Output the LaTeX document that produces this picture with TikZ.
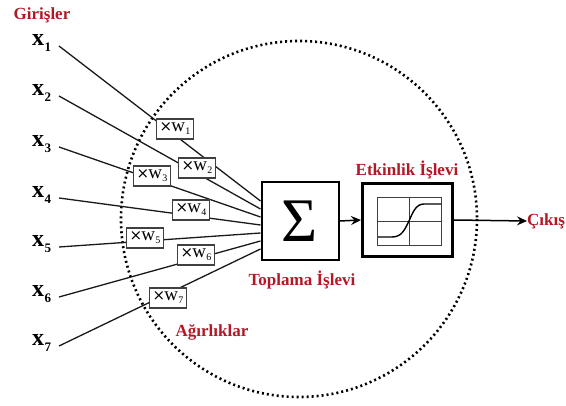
\documentclass[tikz,border=0pt]{standalone}
\usepackage{fontspec}
\setmainfont{Liberation Serif}
\newfontfamily\timesfont{DejaVu Sans}
\usetikzlibrary{arrows.meta,calc}
\definecolor{labred}{RGB}{178,24,38}
\newcommand{\xin}[1]{x\kern0.5pt\raisebox{-6pt}{\fontsize{13}{13}\selectfont #1}}
\newcommand{\wt}[1]{{\timesfont\fontsize{15}{15}\selectfont ×}\kern-1pt w\kern0.3pt\raisebox{-3pt}{\fontsize{10}{10}\selectfont #1}}
\begin{document}
\begin{tikzpicture}[x=1pt,y=-1pt,
  redlab/.style={text=labred,font=\fontsize{17}{17}\selectfont\bfseries,inner sep=0pt},
  xlab/.style={font=\fontsize{24}{24}\selectfont\bfseries,inner sep=0pt,anchor=base west},
  wbox/.style={draw=black!75,line width=1.3pt,fill=white,minimum width=37pt,
    minimum height=20pt,inner sep=0pt,font=\fontsize{19}{19}\selectfont},
  link/.style={line width=1.3pt,black!90},
  blockbox/.style={draw=black,fill=white,inner sep=0pt},
  flow/.style={line width=1.5pt,-{Stealth[length=10pt,width=9pt,inset=3.5pt]}},
  boundary/.style={line width=2.6pt,dash pattern=on 2pt off 3pt}
]
\useasboundingbox (0,0) rectangle (566,406);

% neuron boundary
\draw[boundary] (299,219) circle[radius=178];

% inputs
\node[redlab] (girisler) at (42,15) {Girişler};
\foreach \i/\yb in {1/46,2/96,3/147,4/198,5/247,6/297,7/346}{
  \node[xlab] (x\i) at (32,\yb) {\xin{\i}};
  \coordinate (s\i) at (59,\yb);
}

% summation block and its input points
\node[blockbox,line width=2pt,minimum width=77pt,minimum height=78pt] (sum) at (300,221)
  {\fontsize{62}{62}\selectfont Σ};
\foreach \i in {1,...,7}{
  \coordinate (e\i) at ($(sum.north west)!{(\i+1.5)/10}!(sum.south west)$);
}

% weighted connections
\foreach \i in {1,...,7}{
  \draw[link] (s\i) -- (e\i);
}
\node[wbox] (w1) at (175,129) {\wt{1}};
\node[wbox] (w2) at (197,168) {\wt{2}};
\node[wbox] (w3) at (152,176) {\wt{3}};
\node[wbox] (w4) at (191,210) {\wt{4}};
\node[wbox] (w5) at (145,238) {\wt{5}};
\node[wbox] (w6) at (196,255) {\wt{6}};
\node[wbox] (w7) at (168,298) {\wt{7}};
\node[redlab] (agirliklar) at (212,332) {Ağırlıklar};

% activation block with sigmoid plot
\node[blockbox,line width=3pt,minimum width=90pt,minimum height=73pt] (act) at (407.5,220) {};
\node[redlab] (actlab) at (407,170) {Etkinlik İşlevi};
\node[redlab] (sumlab) at (302,280) {Toplama İşlevi};
\draw[black!75,line width=0.8pt] (377,197) rectangle (441,245);
\draw[black!75,line width=0.8pt] (409,197) -- (409,245);
\draw[black!75,line width=0.8pt] (377,221) -- (441,221);
\draw[line width=1.4pt] (378,237) -- (392,237)
  .. controls (402,237) and (405,229) .. (409,221)
  .. controls (413,212) and (416,204) .. (424,204) -- (441,204);

% signal flow
\draw[flow] (sum.east) -- (act.west);
\node[redlab,anchor=west] (out) at (527,221) {Çıkış};
\draw[flow] (act.east) -- (out.west);
\end{tikzpicture}
\end{document}
